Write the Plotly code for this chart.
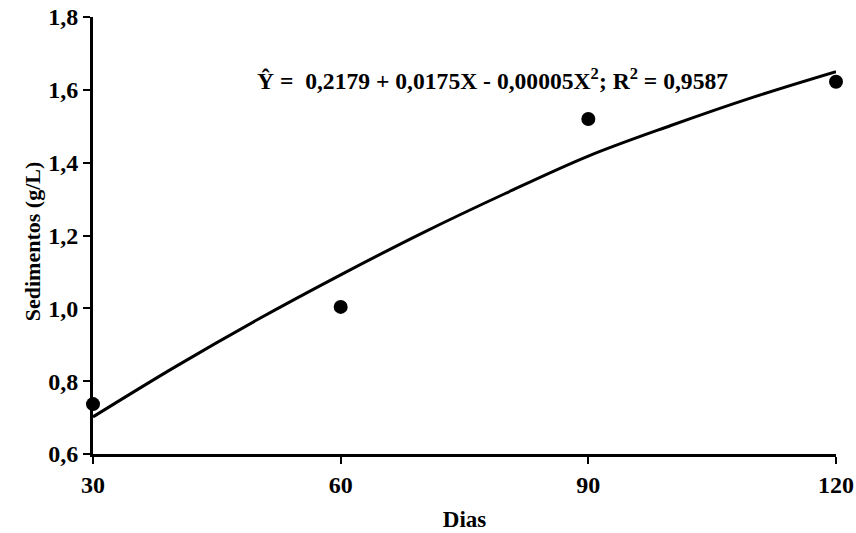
import plotly.graph_objects as go

dias = [30, 60, 90, 120]
sedimentos = [0.737, 1.004, 1.520, 1.622]

curva_x = [30, 40, 50, 60, 70, 80, 90, 100, 110, 120]
curva_y = [0.702, 0.840, 0.970, 1.092, 1.208, 1.316, 1.418, 1.502, 1.580, 1.650]

x_ticks = [30, 60, 90, 120]
y_ticks = [0.6, 0.8, 1.0, 1.2, 1.4, 1.6, 1.8]
y_labels = ["0,6", "0,8", "1,0", "1,2", "1,4", "1,6", "1,8"]

FONT = "Liberation Serif"

fig = go.Figure()
fig.add_trace(go.Scatter(x=curva_x, y=curva_y, mode="lines",
                         line=dict(color="black", width=3, shape="spline"),
                         cliponaxis=False, showlegend=False))
fig.add_trace(go.Scatter(x=dias, y=sedimentos, mode="markers",
                         marker=dict(color="black", size=14),
                         cliponaxis=False, showlegend=False))

fig.add_annotation(x=0.538, y=1.63, xref="paper", yref="y",
                   text="<b>Ŷ =  0,2179 + 0,0175X - 0,00005X<sup>2</sup>; R<sup>2</sup> = 0,9587</b>",
                   showarrow=False, font=dict(family=FONT, size=23.6, color="black"),
                   xanchor="center", yanchor="middle")

fig.add_annotation(x=-0.082, y=0.487, xref="paper", yref="paper",
                   text="<b>Sedimentos (g/L)</b>", textangle=-90,
                   showarrow=False, font=dict(family=FONT, size=22, color="black"),
                   xanchor="center", yanchor="middle")

fig.update_xaxes(range=[30, 120], tickvals=x_ticks, ticktext=[str(v) for v in x_ticks],
                 showline=True, linecolor="black", linewidth=3, ticks="outside",
                 ticklen=7, tickwidth=2, tickcolor="black", showgrid=False, zeroline=False,
                 automargin=False,
                 tickfont=dict(family=FONT, size=24, color="black", weight="bold"),
                 title=dict(text="<b>Dias</b>", font=dict(family=FONT, size=23, color="black")))
fig.update_yaxes(range=[0.6, 1.8], tickvals=y_ticks, ticktext=y_labels,
                 showline=True, linecolor="black", linewidth=3, ticks="outside",
                 ticklen=7, tickwidth=2, tickcolor="black", showgrid=False, zeroline=False,
                 automargin=False,
                 tickfont=dict(family=FONT, size=24, color="black", weight="bold"))

fig.update_layout(width=856, height=533, margin=dict(l=93, r=20, t=17, b=79),
                  plot_bgcolor="white", paper_bgcolor="white")

fig.write_html("out.html")
